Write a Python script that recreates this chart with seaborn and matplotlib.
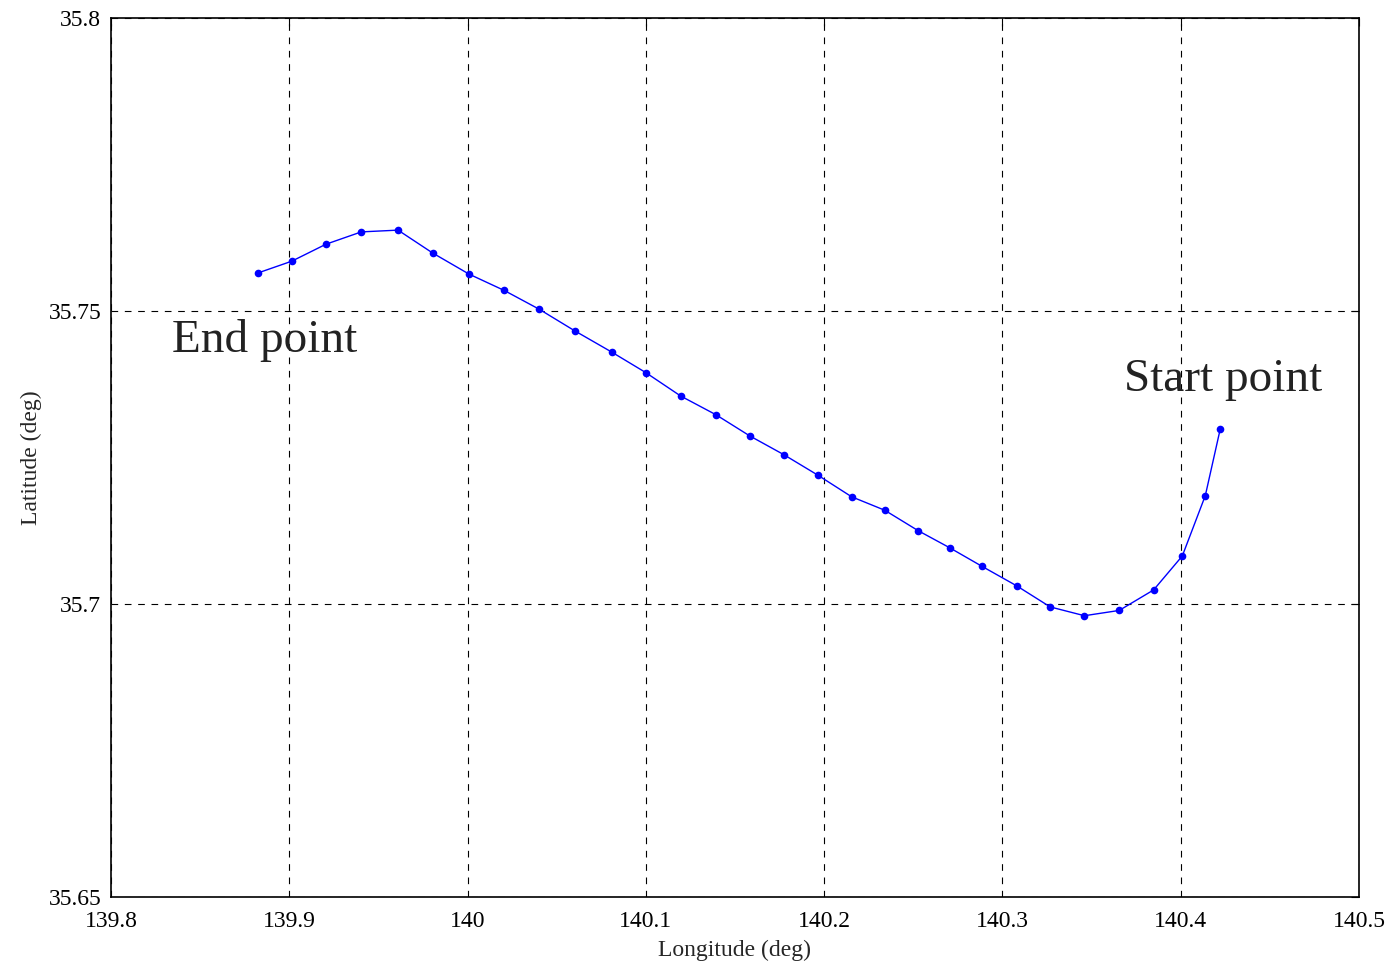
import matplotlib
matplotlib.use("Agg")
import matplotlib.pyplot as plt
import seaborn as sns
import pandas as pd

lon = [139.8825, 139.9014, 139.9206, 139.9404, 139.9610, 139.9804, 140.0008, 140.0206,
       140.0402, 140.0602, 140.0808, 140.0999, 140.1195, 140.1393, 140.1582, 140.1773,
       140.1964, 140.2154, 140.2340, 140.2528, 140.2704, 140.2887, 140.3080, 140.3268,
       140.3460, 140.3655, 140.3848, 140.4009, 140.4138, 140.4222]
lat = [35.7565, 35.7585, 35.7614, 35.7635, 35.7638, 35.7599, 35.7563, 35.7535,
       35.7503, 35.7466, 35.7430, 35.7395, 35.7355, 35.7323, 35.7287, 35.7255,
       35.7220, 35.7183, 35.7160, 35.7125, 35.7096, 35.7064, 35.7031, 35.6995,
       35.6980, 35.6989, 35.7024, 35.7082, 35.7185, 35.7299]
xticks = [139.8, 139.9, 140.0, 140.1, 140.2, 140.3, 140.4, 140.5]
xticklabels = ["139.8", "139.9", "140", "140.1", "140.2", "140.3", "140.4", "140.5"]
yticks = [35.65, 35.7, 35.75, 35.8]
yticklabels = ["35.65", "35.7", "35.75", "35.8"]

sns.set_theme(style="white")
plt.rcParams['font.family'] = ['Liberation Serif', 'DejaVu Serif']

fig = plt.figure(figsize=(13.91, 9.63), dpi=100)
ax = fig.add_axes([111/1391, 1-897/963, (1359-111)/1391, (897-18)/963])

df = pd.DataFrame({"lon": lon, "lat": lat})
sns.lineplot(data=df, x="lon", y="lat", sort=False, ax=ax, color="#0000ff",
             linewidth=1.0, marker="o", markersize=5.5, markeredgewidth=0,
             markerfacecolor="#0000ff")

ax.set_xlim(139.8, 140.5)
ax.set_ylim(35.65, 35.8)
ax.set_xticks(xticks)
ax.set_xticklabels(xticklabels)
ax.set_yticks(yticks)
ax.set_yticklabels(yticklabels)
ax.tick_params(direction="in", length=6, width=0.8, colors="black", labelsize=17,
               top=True, right=True)
ax.tick_params(axis="x", pad=10)
ax.tick_params(axis="y", pad=7)
ax.grid(True, linestyle=(0, (6, 6)), color="black", linewidth=0.8)
for s in ax.spines.values():
    s.set_color("black")
    s.set_linewidth(1.2)
ax.set_xlabel("Longitude (deg)", fontsize=17, labelpad=6)
ax.set_ylabel("Latitude (deg)", fontsize=17, labelpad=5)

ax.text(139.834, 35.7449, "End point", fontsize=34, color="#222222", va="center", ha="left")
ax.text(140.3680, 35.7382, "Start point", fontsize=34, color="#222222", va="center", ha="left")

fig.savefig("out.png", dpi=100)
